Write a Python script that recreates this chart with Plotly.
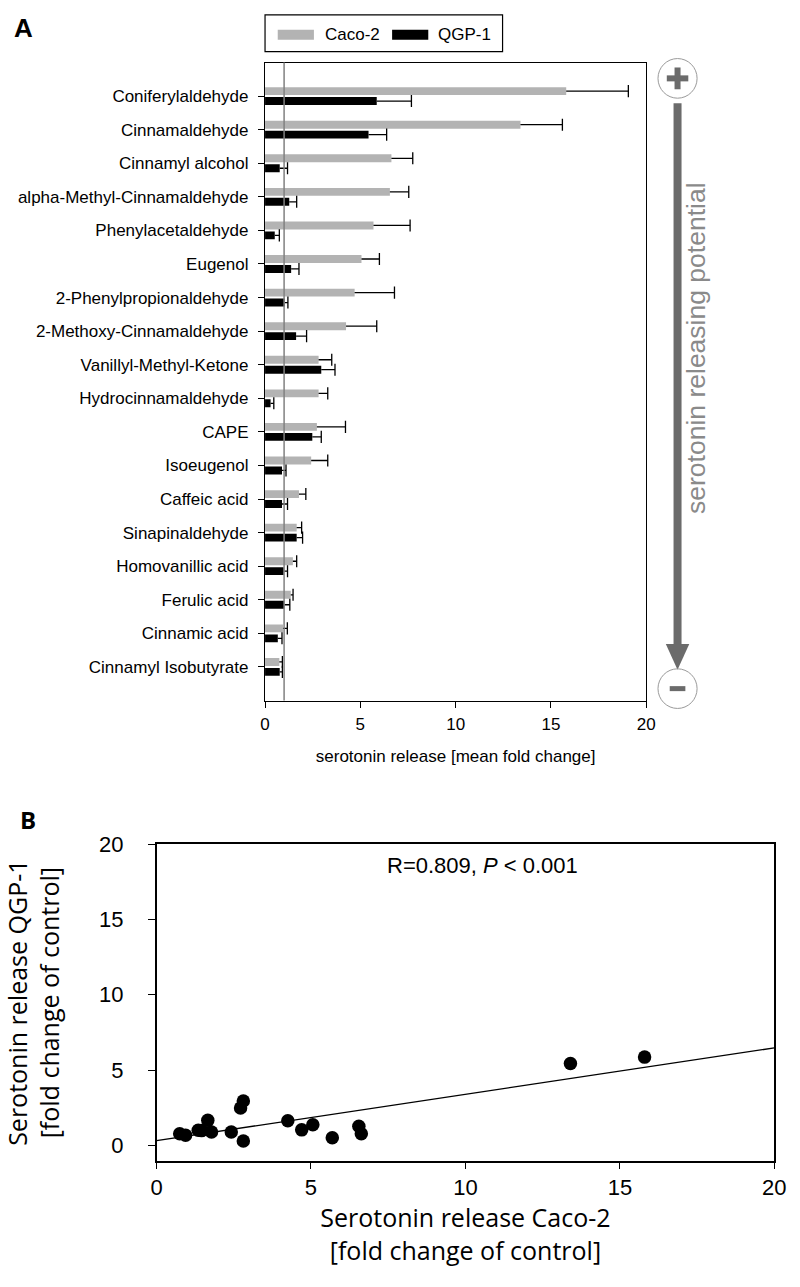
import numpy as np
import plotly.graph_objects as go

# ---------------- data ----------------
compounds = [
    "Coniferylaldehyde", "Cinnamaldehyde", "Cinnamyl alcohol",
    "alpha-Methyl-Cinnamaldehyde", "Phenylacetaldehyde", "Eugenol",
    "2-Phenylpropionaldehyde", "2-Methoxy-Cinnamaldehyde",
    "Vanillyl-Methyl-Ketone", "Hydrocinnamaldehyde", "CAPE", "Isoeugenol",
    "Caffeic acid", "Sinapinaldehyde", "Homovanillic acid", "Ferulic acid",
    "Cinnamic acid", "Cinnamyl Isobutyrate",
]
caco2_mean = [15.8, 13.4, 6.63, 6.55, 5.69, 5.06, 4.70, 4.25, 2.81, 2.81,
              2.72, 2.42, 1.78, 1.66, 1.46, 1.35, 0.94, 0.75]
caco2_err = [3.26, 2.20, 1.12, 0.99, 1.92, 0.94, 2.09, 1.61, 0.69, 0.48,
             1.50, 0.87, 0.36, 0.26, 0.20, 0.12, 0.23, 0.16]
qgp1_mean = [5.86, 5.43, 0.77, 1.27, 0.51, 1.37, 1.03, 1.63, 2.95, 0.29,
             2.48, 0.89, 0.89, 1.66, 0.98, 1.01, 0.67, 0.77]
qgp1_err = [1.82, 0.95, 0.41, 0.39, 0.24, 0.41, 0.17, 0.55, 0.72, 0.17,
            0.47, 0.21, 0.29, 0.31, 0.20, 0.29, 0.22, 0.14]
series_names = ["Caco-2", "QGP-1"]
x_ticks_a = [0, 5, 10, 15, 20]
x_ticks_b = [0, 5, 10, 15, 20]
y_ticks_b = [0, 5, 10, 15, 20]
control_level = 1
corr_text = "R=0.809, <i>P</i> < 0.001"

# ---------------- style ----------------
W, H = 800, 1287
GRAY = "#b3b3b3"
BLACK = "#000000"
ARROW = "#6b6b6b"
FA = "Liberation Sans, Arial, sans-serif"
FO = "Open Sans, Segoe UI, Liberation Sans, sans-serif"


def px(x):
    return x / W


def py(y):
    return 1 - y / H


BAR_W = 0.235
OFF = 0.148
CAP = 0.18

idx = list(range(len(compounds)))
y_caco = [i - OFF for i in idx]
y_qgp = [i + OFF for i in idx]

fig = go.Figure()

fig.add_trace(go.Bar(x=caco2_mean, y=y_caco, orientation="h", width=BAR_W,
                     marker=dict(color=GRAY, line=dict(width=0)),
                     name=series_names[0], showlegend=False,
                     xaxis="x", yaxis="y"))
fig.add_trace(go.Bar(x=qgp1_mean, y=y_qgp, orientation="h", width=BAR_W,
                     marker=dict(color=BLACK, line=dict(width=0)),
                     name=series_names[1], showlegend=False,
                     xaxis="x", yaxis="y"))


def err_lines(means, errs, ys):
    xs, yy = [], []
    for m, e, yc in zip(means, errs, ys):
        xs += [m, m + e, None, m + e, m + e, None]
        yy += [yc, yc, None, yc - CAP, yc + CAP, None]
    return xs, yy


for means, errs, ys in [(caco2_mean, caco2_err, y_caco), (qgp1_mean, qgp1_err, y_qgp)]:
    ex, ey = err_lines(means, errs, ys)
    fig.add_trace(go.Scatter(x=ex, y=ey, mode="lines",
                             line=dict(color=BLACK, width=1.3),
                             showlegend=False, hoverinfo="skip",
                             xaxis="x", yaxis="y"))

# panel B scatter + regression
fig.add_trace(go.Scatter(x=caco2_mean, y=qgp1_mean, mode="markers",
                         marker=dict(color=BLACK, size=13.5),
                         showlegend=False, xaxis="x2", yaxis="y2"))
slope, intercept = np.polyfit(caco2_mean, qgp1_mean, 1)
xl = np.array([x_ticks_b[0], x_ticks_b[-1]], dtype=float)
fig.add_trace(go.Scatter(x=xl, y=intercept + slope * xl, mode="lines",
                         line=dict(color=BLACK, width=1.3),
                         showlegend=False, xaxis="x2", yaxis="y2"))

axis_common = dict(showgrid=False, zeroline=False, showline=True,
                   linecolor=BLACK, mirror=True, ticks="outside",
                   tickcolor=BLACK)

fig.update_layout(
    width=W, height=H, margin=dict(l=0, r=0, t=0, b=0),
    paper_bgcolor="white", plot_bgcolor="white",
    barmode="overlay", showlegend=False,
    xaxis=dict(axis_common, domain=[px(265), px(655)], range=[0, 20],
               tickvals=x_ticks_a, ticklen=6, linewidth=1.3,
               ticklabelstandoff=2,
               tickfont=dict(family=FA, size=17, color=BLACK),
               title=dict(text="serotonin release [mean fold change]",
                          font=dict(family=FA, size=17, color=BLACK),
                          standoff=17),
               anchor="y"),
    yaxis=dict(axis_common, domain=[py(695), py(51)], range=[18, -1],
               tickvals=idx, ticktext=compounds, ticklen=6, linewidth=1.3,
               ticklabelstandoff=6,
               layer="below traces",
               tickfont=dict(family=FA, size=17, color=BLACK),
               anchor="x"),
    xaxis2=dict(axis_common, domain=[px(154), px(786)], range=[0, 20],
                tickvals=x_ticks_b, ticklen=6, linewidth=1.5,
                ticklabelstandoff=0,
                tickfont=dict(family=FA, size=22, color=BLACK),
                title=dict(text="Serotonin release Caco-2<br>[fold change of control]",
                           font=dict(family=FO, size=25, color=BLACK),
                           standoff=5),
                anchor="y2"),
    yaxis2=dict(axis_common, domain=[py(1160), py(840)], range=[-1.05, 20],
                tickvals=y_ticks_b, ticklen=7, linewidth=1.5,
                ticklabelstandoff=20,
                tickfont=dict(family=FA, size=22, color=BLACK),
                title=dict(text="Serotonin release QGP-1<br>[fold change of control]",
                           font=dict(family=FO, size=25, color=BLACK),
                           standoff=40),
                anchor="x2"),
)

shapes = []
# control reference line at x = 1
shapes.append(dict(type="line", xref="x", yref="y domain", x0=control_level,
                   x1=control_level, y0=0, y1=1,
                   line=dict(color="#808080", width=1.5), layer="above"))
# manual legend
shapes.append(dict(type="rect", xref="paper", yref="paper", x0=px(265), x1=px(508),
                   y0=py(40), y1=py(3), line=dict(color=BLACK, width=1.2)))
shapes.append(dict(type="rect", xref="paper", yref="paper", x0=px(278), x1=px(315),
                   y0=py(28), y1=py(18), fillcolor=GRAY, line=dict(width=0)))
shapes.append(dict(type="rect", xref="paper", yref="paper", x0=px(395), x1=px(432),
                   y0=py(28), y1=py(18), fillcolor=BLACK, line=dict(width=0)))
# arrow on the right
shapes.append(dict(type="circle", xref="paper", yref="paper", x0=px(667), x1=px(707),
                   y0=py(87), y1=py(47), line=dict(color="#9a9a9a", width=1)))
shapes.append(dict(type="line", xref="paper", yref="paper", x0=px(676), x1=px(698),
                   y0=py(67), y1=py(67), line=dict(color=ARROW, width=6)))
shapes.append(dict(type="line", xref="paper", yref="paper", x0=px(687), x1=px(687),
                   y0=py(56), y1=py(78), line=dict(color=ARROW, width=6)))
shapes.append(dict(type="line", xref="paper", yref="paper", x0=px(687), x1=px(687),
                   y0=py(92), y1=py(642), line=dict(color=ARROW, width=8)))
shapes.append(dict(type="path", xref="paper", yref="paper",
                   path=f"M {px(675)},{py(638)} L {px(699)},{py(638)} L {px(687)},{py(664)} Z",
                   fillcolor=ARROW, line=dict(width=0)))
shapes.append(dict(type="circle", xref="paper", yref="paper", x0=px(667), x1=px(707),
                   y0=py(703), y1=py(663), line=dict(color="#9a9a9a", width=1)))
shapes.append(dict(type="line", xref="paper", yref="paper", x0=px(679), x1=px(695),
                   y0=py(683), y1=py(683), line=dict(color=ARROW, width=5)))
fig.update_layout(shapes=shapes)

annotations = [
    dict(text="<b>A</b>", x=px(6), y=py(16), xref="paper", yref="paper",
         xanchor="left", yanchor="middle", showarrow=False,
         font=dict(family=FA, size=26, color=BLACK)),
    dict(text="<b>B</b>", x=px(12), y=py(815), xref="paper", yref="paper",
         xanchor="left", yanchor="middle", showarrow=False,
         font=dict(family=FO, size=24, color=BLACK)),
    dict(text=series_names[0], x=px(324), y=py(23), xref="paper", yref="paper",
         xanchor="left", yanchor="middle", showarrow=False,
         font=dict(family=FA, size=17, color=BLACK)),
    dict(text=series_names[1], x=px(440), y=py(23), xref="paper", yref="paper",
         xanchor="left", yanchor="middle", showarrow=False,
         font=dict(family=FA, size=17, color=BLACK)),
    dict(text="serotonin releasing potential", x=px(706), y=py(340),
         xref="paper", yref="paper", textangle=-90, showarrow=False,
         xanchor="center", yanchor="middle",
         font=dict(family=FA, size=26.5, color="#8a8a8a")),
    dict(text=corr_text, x=px(487), y=py(862), xref="paper", yref="paper",
         xanchor="center", yanchor="middle", showarrow=False,
         font=dict(family=FA, size=22, color=BLACK)),
]
fig.update_layout(annotations=annotations)

fig.write_html(
    "out.html",
    config={"displayModeBar": False},
    post_script="document.body.style.margin='0px';document.body.style.overflow='hidden';",
)
